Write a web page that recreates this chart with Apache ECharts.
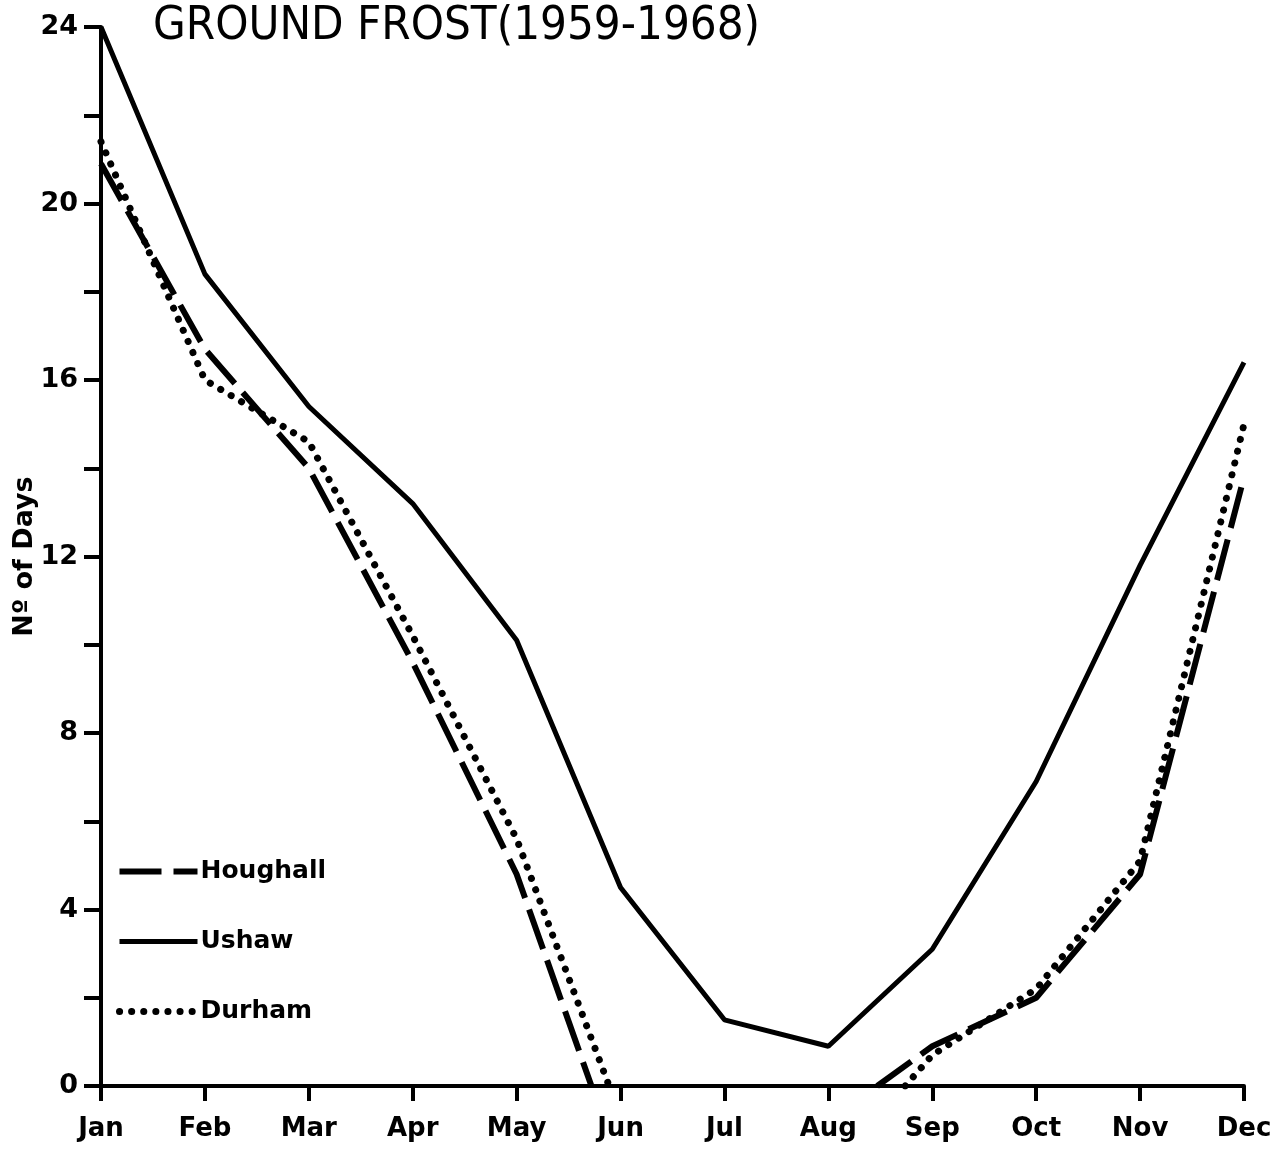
<!DOCTYPE html>
<html>
<head>
<meta charset="utf-8">
<script src="https://cdn.jsdelivr.net/npm/echarts@6/dist/echarts.min.js"></script>
<style>html,body{margin:0;padding:0;background:#fff}#c{width:1283px;height:1151px}</style>
</head>
<body>
<div id="c"></div>
<script>
const months = ['Jan','Feb','Mar','Apr','May','Jun','Jul','Aug','Sep','Oct','Nov','Dec'];
const yTicks = [0, 4, 8, 12, 16, 20, 24];
// [month index, days]; '-' marks a gap in the line
const houghall = [[0,20.9],[1,16.7],[2,14.0],[3,9.6],[4,4.8],[4.72,0],['-','-'],[7.47,0],[8,0.9],[9,2.0],[10,4.8],[11,13.8]];
const ushaw = [[0,24],[1,18.4],[2,15.4],[3,13.2],[4,10.1],[5,4.5],[6,1.5],[7,0.9],[8,3.1],[9,6.9],[10,11.8],[11,16.4]];
const durham = [[0,21.4],[1,16.0],[2,14.6],[3,10.2],[4,5.6],[4.89,0],['-','-'],[7.74,0],[8,0.7],[9,2.2],[10,5.1],[11,15.0]];

const chart = echarts.init(document.getElementById('c'));
const font = '"DejaVu Sans"';
const hStyle = {color: '#000', width: 6, type: [42, 12], cap: 'butt'};
const uStyle = {color: '#000', width: 5, type: 'solid', cap: 'butt'};
const dStyle = {color: '#000', width: 7, type: [0.1, 12], cap: 'round'};
chart.setOption({
  animation: false,
  backgroundColor: '#fff',
  title: {
    text: 'GROUND FROST(1959-1968)',
    left: 148, top: -2,
    textStyle: {fontFamily: '"DejaVu Sans Condensed", "Liberation Sans Narrow", sans-serif', fontSize: 47, fontWeight: 'normal', color: '#000'}
  },
  grid: {left: 101, right: 39, top: 27, bottom: 65, containLabel: false, outerBoundsMode: 'none'},
  legend: {
    orient: 'vertical', left: 111, top: 854,
    itemWidth: 78, itemHeight: 20, itemGap: 45,
    itemStyle: {opacity: 0},
    data: [
      {name: 'Houghall', lineStyle: hStyle},
      {name: 'Ushaw', lineStyle: uStyle},
      {name: 'Durham', lineStyle: dStyle}
    ],
    textStyle: {fontFamily: font, fontSize: 25, fontWeight: 'bold', color: '#000', padding: [0,0,0,-2]}
  },
  xAxis: {
    type: 'value', min: 0, max: 11, interval: 1,
    axisLine: {lineStyle: {color: '#000', width: 4}},
    axisTick: {show: true, length: 15, lineStyle: {color: '#000', width: 4}},
    splitLine: {show: false},
    axisLabel: {margin: 30, fontFamily: font, fontSize: 26, fontWeight: 'bold', color: '#000',
      formatter: v => months[v] || ''}
  },
  yAxis: {
    type: 'value', min: 0, max: 24, interval: 2,
    name: 'N\u00ba of Days', nameLocation: 'middle', nameGap: 63, nameRotate: 90, nameMoveOverlap: false,
    nameTextStyle: {fontFamily: font, fontSize: 27, fontWeight: 'bold', color: '#000'},
    axisLine: {show: true, lineStyle: {color: '#000', width: 4}},
    axisTick: {show: true, length: 17, lineStyle: {color: '#000', width: 4}},
    splitLine: {show: false},
    axisLabel: {margin: 23, fontFamily: font, fontSize: 27, fontWeight: 'bold', color: '#000',
      formatter: v => yTicks.includes(v) ? String(v) : ''}
  },
  series: [
    {name: 'Houghall', type: 'line', data: houghall, symbol: 'none', connectNulls: false,
      lineStyle: hStyle, itemStyle: {color: '#000'}},
    {name: 'Ushaw', type: 'line', data: ushaw, symbol: 'none',
      lineStyle: uStyle, itemStyle: {color: '#000'}},
    {name: 'Durham', type: 'line', data: durham, symbol: 'none', connectNulls: false,
      lineStyle: dStyle, itemStyle: {color: '#000'}}
  ]
});
</script>
</body>
</html>
